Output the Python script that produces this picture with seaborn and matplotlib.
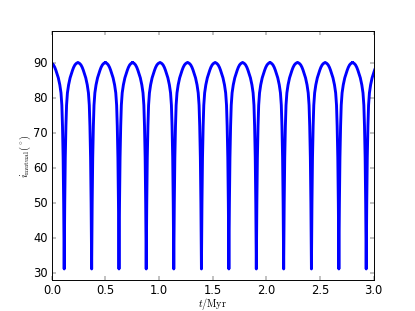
import numpy as np
import pandas as pd
import matplotlib
matplotlib.use("Agg")
import matplotlib.pyplot as plt
import seaborn as sns

# times of the inclination minima (Myr)
t_min = [0.115, 0.371, 0.626, 0.880, 1.137, 1.395, 1.651, 1.907,
         2.162, 2.421, 2.677, 2.932]

# one half-cycle of the curve, read off the first arch:
# offset from a minimum (Myr) and mutual inclination (deg)
dt_half = [0.000, 0.005, 0.010, 0.016, 0.022, 0.030, 0.041, 0.055,
           0.065, 0.078, 0.088, 0.100, 0.112, 0.128]
inc_half = [31.2, 50.0, 63.0, 72.0, 78.0, 81.5, 83.8, 85.8,
            86.8, 88.0, 88.8, 89.5, 89.9, 90.2]

# full cycle = mirrored half
dt_cycle = [-d for d in dt_half[:0:-1]] + dt_half
inc_cycle = inc_half[:0:-1] + inc_half

t_all, inc_all = [], []
for tm in t_min:
    t_all += [tm + d for d in dt_cycle]
    inc_all += inc_cycle
df = pd.DataFrame({"t": t_all, "inc": inc_all})

plt.style.use("classic")
plt.rcParams["figure.facecolor"] = "white"
plt.rcParams["savefig.facecolor"] = "white"
plt.rcParams["mathtext.fontset"] = "cm"

DPI = 415 / 6
fig, ax = plt.subplots(figsize=(6, 4.5), dpi=DPI)
sns.lineplot(data=df, x="t", y="inc", ax=ax, color="blue", lw=3.0,
             sort=False, estimator=None)

ax.set_xlim(0, 3.0)
ax.set_ylim(min(inc_all) * 0.9, max(inc_all) * 1.1)
ax.set_xticks(np.arange(0, 3.01, 0.5))
ax.set_yticks(np.arange(30, 91, 10))
ax.set_xlabel(r"$t/{\rm Myr}$", fontsize=10.5)
ax.set_ylabel(r"$i_{\rm mutual}(^\circ)$", fontsize=11)
ax.xaxis.set_label_coords(0.5, -0.064)
ax.yaxis.set_label_coords(-0.06, 0.5)

fig.savefig("out.png", dpi=DPI)
